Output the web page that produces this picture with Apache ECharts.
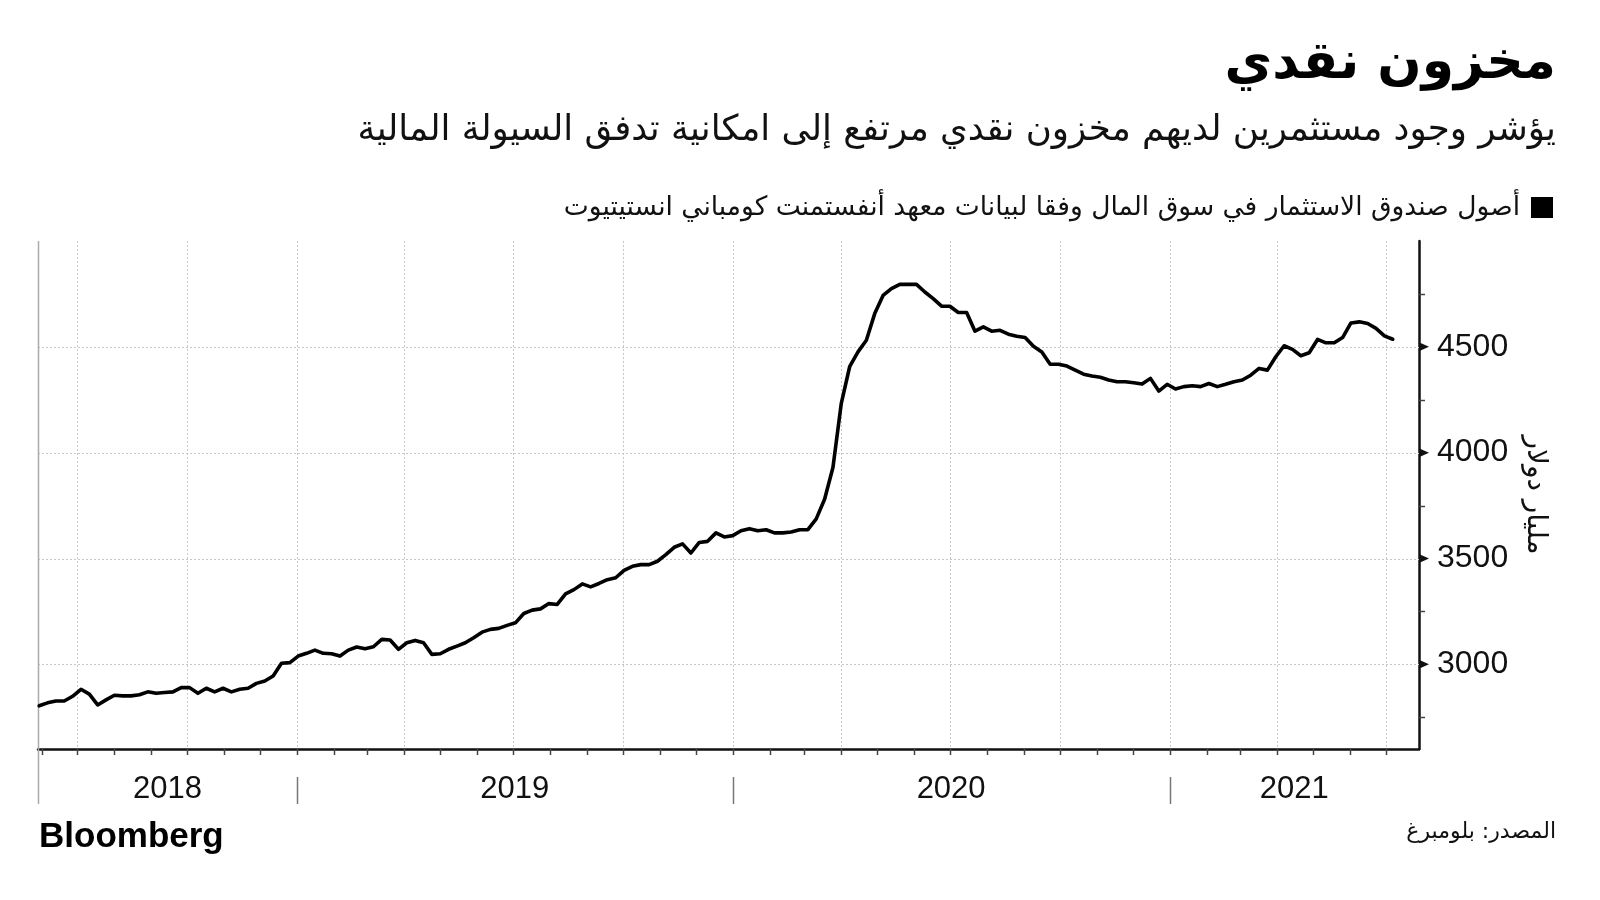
<!DOCTYPE html>
<html><head><meta charset="utf-8">
<script src="https://cdn.jsdelivr.net/npm/echarts@6/dist/echarts.min.js"></script>
<style>html,body{margin:0;padding:0;background:#fff}#c{width:1600px;height:900px}</style>
</head><body><div id="c"></div>
<script>
// Weekly observation dates (Wednesdays)
const dates = [
'2018-05-30','2018-06-06','2018-06-13','2018-06-20','2018-06-27','2018-07-04','2018-07-11','2018-07-18','2018-07-25',
'2018-08-01','2018-08-08','2018-08-15','2018-08-22','2018-08-29','2018-09-05','2018-09-12','2018-09-19','2018-09-26',
'2018-10-03','2018-10-10','2018-10-17','2018-10-24','2018-10-31','2018-11-07','2018-11-14','2018-11-21','2018-11-28',
'2018-12-05','2018-12-12','2018-12-19','2018-12-26',
'2019-01-02','2019-01-09','2019-01-16','2019-01-23','2019-01-30','2019-02-06','2019-02-13','2019-02-20','2019-02-27',
'2019-03-06','2019-03-13','2019-03-20','2019-03-27','2019-04-03','2019-04-10','2019-04-17','2019-04-24',
'2019-05-01','2019-05-08','2019-05-15','2019-05-22','2019-05-29','2019-06-05','2019-06-12','2019-06-19','2019-06-26',
'2019-07-03','2019-07-10','2019-07-17','2019-07-24','2019-07-31','2019-08-07','2019-08-14','2019-08-21','2019-08-28',
'2019-09-04','2019-09-11','2019-09-18','2019-09-25','2019-10-02','2019-10-09','2019-10-16','2019-10-23','2019-10-30',
'2019-11-06','2019-11-13','2019-11-20','2019-11-27','2019-12-04','2019-12-11','2019-12-18','2019-12-25',
'2020-01-01','2020-01-08','2020-01-15','2020-01-22','2020-01-29','2020-02-05','2020-02-12','2020-02-19','2020-02-26',
'2020-03-04','2020-03-11','2020-03-18','2020-03-25','2020-04-01','2020-04-08','2020-04-15','2020-04-22','2020-04-29',
'2020-05-06','2020-05-13','2020-05-20','2020-05-27','2020-06-03','2020-06-10','2020-06-17','2020-06-24',
'2020-07-01','2020-07-08','2020-07-15','2020-07-22','2020-07-29','2020-08-05','2020-08-12','2020-08-19','2020-08-26',
'2020-09-02','2020-09-09','2020-09-16','2020-09-23','2020-09-30','2020-10-07','2020-10-14','2020-10-21','2020-10-28',
'2020-11-04','2020-11-11','2020-11-18','2020-11-25','2020-12-02','2020-12-09','2020-12-16','2020-12-23','2020-12-30',
'2021-01-06','2021-01-13','2021-01-20','2021-01-27','2021-02-03','2021-02-10','2021-02-17','2021-02-24',
'2021-03-03','2021-03-10','2021-03-17','2021-03-24','2021-03-31','2021-04-07','2021-04-14','2021-04-21','2021-04-28',
'2021-05-05','2021-05-12','2021-05-19','2021-05-26','2021-06-02','2021-06-09','2021-06-16','2021-06-23','2021-06-30',
'2021-07-07'
];
// Money market fund assets, billions USD
const assets = [
2804,2818,2827,2827,2849,2882,2859,2808,2832,
2854,2851,2851,2856,2870,2863,2867,2870,2890,
2890,2863,2887,2870,2887,2870,2882,2887,2910,
2921,2945,3005,3008,
3039,3052,3067,3052,3050,3039,3067,3082,3074,
3083,3118,3115,3071,3102,3113,3102,3047,
3050,3071,3086,3102,3126,3152,3165,3170,3184,
3196,3240,3256,3262,3287,3283,3333,3353,3380,
3366,3382,3400,3409,3444,3463,3471,3471,3487,
3518,3553,3569,3526,3576,3581,3621,3602,
3608,3631,3641,3631,3636,3621,3621,3625,3636,
3636,3687,3780,3930,4233,4406,4476,4531,4657,
4743,4775,4795,4795,4795,4759,4728,4692,
4692,4662,4662,4574,4594,4574,4578,4560,4550,
4544,4503,4476,4418,4418,4409,4390,4371,4362,
4356,4343,4335,4335,4330,4324,4351,4291,4323,
4301,4312,4316,4312,4327,4312,4323,4335,
4343,4366,4398,4390,4453,4505,4488,4458,4472,
4535,4519,4519,4544,4613,4618,4610,4587,4552,
4536
];
const yLabels = [3000, 3500, 4000, 4500];
const yMinorTicks = [2750, 3250, 3750, 4250, 4750];
const monthTicks = [
'2018-06-01','2018-07-01','2018-08-01','2018-09-01','2018-10-01','2018-11-01','2018-12-01',
'2019-01-01','2019-02-01','2019-03-01','2019-04-01','2019-05-01','2019-06-01','2019-07-01','2019-08-01','2019-09-01','2019-10-01','2019-11-01','2019-12-01',
'2020-01-01','2020-02-01','2020-03-01','2020-04-01','2020-05-01','2020-06-01','2020-07-01','2020-08-01','2020-09-01','2020-10-01','2020-11-01','2020-12-01',
'2021-01-01','2021-02-01','2021-03-01','2021-04-01','2021-05-01','2021-06-01','2021-07-01'
];
const quarterLines = ['2018-07-01','2018-10-01','2019-01-01','2019-04-01','2019-07-01','2019-10-01',
'2020-01-01','2020-04-01','2020-07-01','2020-10-01','2021-01-01','2021-04-01','2021-07-01'];
const yearLabels = ['2018', '2019', '2020', '2021'];
const yearBounds = ['2018-05-29', '2019-01-01', '2020-01-01', '2021-01-01', '2021-07-29'];
const X_MIN = '2018-05-29', X_MAX = '2021-07-29';
const Y_MIN = 2600, Y_MAX = 5000;

const TITLE = 'مخزون نقدي';
const SUBTITLE = 'يؤشر وجود مستثمرين لديهم مخزون نقدي مرتفع إلى امكانية تدفق السيولة المالية';
const SERIES_NAME = 'أصول صندوق الاستثمار في سوق المال وفقا لبيانات معهد أنفستمنت كومباني انستيتيوت';
const Y_NAME = 'مليار دولار';
const SOURCE = 'المصدر: بلومبرغ';

const ts = s => Date.parse(s + 'T00:00:00Z');
const AR = "'DejaVu Sans', sans-serif";
const LAT = "'Liberation Sans', Arial, sans-serif";

const chart = echarts.init(document.getElementById('c'), null, {renderer: 'canvas'});

function lineEl(x1, y1, x2, y2, stroke, w, dash) {
  return {type: 'line', shape: {x1, y1, x2, y2}, style: {stroke, lineWidth: w, lineDash: dash || null}};
}

const customBase = {type: 'custom', clip: false, silent: true, animation: false, encode: {x: 0, y: 1}, z: 1};

chart.setOption({
  useUTC: true,
  animation: false,
  backgroundColor: '#fff',
  grid: {left: 38, right: 181, top: 241, bottom: 151, containLabel: false},
  xAxis: {
    type: 'time', min: ts(X_MIN), max: ts(X_MAX),
    axisLine: {show: true, onZero: false, lineStyle: {color: '#111', width: 2.5}},
    axisTick: {show: false}, axisLabel: {show: false}, splitLine: {show: false}
  },
  yAxis: {
    type: 'value', position: 'right', min: Y_MIN, max: Y_MAX,
    axisLine: {show: true, onZero: false, lineStyle: {color: '#111', width: 2.5}},
    axisTick: {show: false}, splitLine: {show: false},
    axisLabel: {customValues: yLabels, formatter: v => String(v),
      fontSize: 32, fontFamily: LAT, color: '#111', margin: 18},
    name: Y_NAME, nameLocation: 'middle', nameRotate: -90, nameGap: 102,
    nameTextStyle: {fontSize: 28, fontFamily: AR, color: '#111'}
  },
  graphic: [
    {type: 'text', x: 1556, y: 64, style: {text: TITLE, font: "bold 52px " + AR, fill: '#000', align: 'right', verticalAlign: 'middle', textAlign: 'right', textVerticalAlign: 'middle'}},
    {type: 'text', x: 1556, y: 131, style: {text: SUBTITLE, font: "35.6px " + AR, fill: '#111', align: 'right', verticalAlign: 'middle', textAlign: 'right', textVerticalAlign: 'middle'}},
    {type: 'rect', shape: {x: 1531, y: 197, width: 22, height: 21}, style: {fill: '#000'}},
    {type: 'text', x: 1520, y: 208, style: {text: SERIES_NAME, font: "26.5px " + AR, fill: '#111', align: 'right', verticalAlign: 'middle', textAlign: 'right', textVerticalAlign: 'middle'}},
    {type: 'text', x: 39, y: 837, style: {text: 'Bloomberg', font: "bold 35px " + LAT, fill: '#000', align: 'left', verticalAlign: 'middle', textAlign: 'left', textVerticalAlign: 'middle'}},
    {type: 'text', x: 1556, y: 832, style: {text: SOURCE, font: "22px " + AR, fill: '#111', align: 'right', verticalAlign: 'middle', textAlign: 'right', textVerticalAlign: 'middle'}}
  ],
  series: [
    // horizontal dotted gridlines
    Object.assign({}, customBase, {
      data: yLabels.map(v => [ts(X_MIN), v]),
      renderItem: (p, api) => {
        const a = api.coord([ts(X_MIN), api.value(1)]), b = api.coord([ts(X_MAX), api.value(1)]);
        const y = Math.round(a[1]) + 0.5;
        return lineEl(a[0], y, b[0], y, '#c8c8c8', 1, [2, 2]);
      }
    }),
    // vertical quarterly dotted gridlines
    Object.assign({}, customBase, {
      data: quarterLines.map(d => [ts(d), Y_MIN]),
      renderItem: (p, api) => {
        const a = api.coord([api.value(0), Y_MAX]), b = api.coord([api.value(0), Y_MIN]);
        const x = Math.round(a[0]) + 0.5;
        return lineEl(x, a[1], x, b[1], '#c8c8c8', 1, [2, 2]);
      }
    }),
    // monthly ticks below x axis
    Object.assign({}, customBase, {
      data: monthTicks.map(d => [ts(d), Y_MIN]), z: 6,
      renderItem: (p, api) => {
        const a = api.coord([api.value(0), Y_MIN]);
        const x = Math.round(a[0]) + 0.5;
        return lineEl(x, a[1], x, a[1] + 6, '#444', 1.5);
      }
    }),
    // left edge line
    Object.assign({}, customBase, {
      data: [[ts(X_MIN), Y_MIN]],
      renderItem: (p, api) => {
        const a = api.coord([api.value(0), Y_MAX]), b = api.coord([api.value(0), Y_MIN]);
        return lineEl(a[0] + 0.5, a[1], a[0] + 0.5, b[1] + 55, '#aaa', 1.5);
      }
    }),
    // year separators
    Object.assign({}, customBase, {
      data: yearBounds.slice(1, -1).map(d => [ts(d), Y_MIN]),
      renderItem: (p, api) => {
        const a = api.coord([api.value(0), Y_MIN]);
        const x = Math.round(a[0]) + 0.5;
        return lineEl(x, a[1] + 28, x, a[1] + 55, '#777', 1.5);
      }
    }),
    // year labels centred in their spans
    Object.assign({}, customBase, {
      data: yearLabels.map((l, i) => [ts(yearBounds[i]), Y_MIN, ts(yearBounds[i + 1])]),
      renderItem: (p, api) => {
        const a = api.coord([api.value(0), Y_MIN]), b = api.coord([api.value(2), Y_MIN]);
        return {type: 'text', x: (a[0] + b[0]) / 2, y: a[1] + 40,
          style: {text: yearLabels[p.dataIndex], font: '31px ' + LAT, fill: '#111', align: 'center', verticalAlign: 'middle', textAlign: 'center', textVerticalAlign: 'middle'}};
      }
    }),
    // y major tick pointers
    Object.assign({}, customBase, {
      data: yLabels.map(v => [ts(X_MAX), v]), z: 6,
      renderItem: (p, api) => {
        const a = api.coord([ts(X_MAX), api.value(1)]);
        return {type: 'polygon', shape: {points: [[a[0] + 1, a[1] - 4], [a[0] + 10, a[1]], [a[0] + 1, a[1] + 4]]}, style: {fill: '#111'}};
      }
    }),
    // y minor ticks
    Object.assign({}, customBase, {
      data: yMinorTicks.map(v => [ts(X_MAX), v]), z: 6,
      renderItem: (p, api) => {
        const a = api.coord([ts(X_MAX), api.value(1)]);
        const y = Math.round(a[1]) + 0.5;
        return lineEl(a[0], y, a[0] + 6, y, '#444', 1.5);
      }
    }),
    {
      name: SERIES_NAME, type: 'line', z: 5,
      data: dates.map((d, i) => [ts(d), assets[i]]),
      showSymbol: false, symbol: 'none',
      lineStyle: {color: '#000', width: 3.6, join: 'round', cap: 'round'},
      emphasis: {disabled: true}
    }
  ]
});
</script>
</body></html>
